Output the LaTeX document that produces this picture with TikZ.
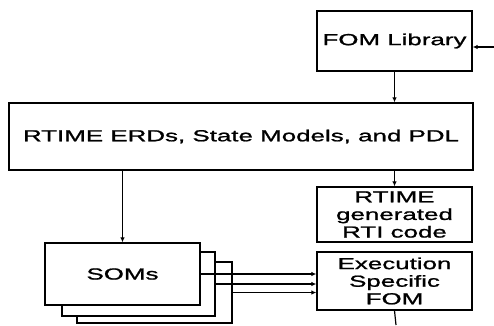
\documentclass[tikz,border=0pt]{standalone}
\usepackage{fontspec}
\setmainfont{Liberation Sans}[FakeStretch=1.62,FakeBold=1.2]
\usetikzlibrary{arrows.meta}
\begin{document}
\begin{tikzpicture}[x=1pt,y=-1pt,
  box/.style={draw,line width=1.3pt,fill=white,inner sep=0pt,align=center,
    font=\fontsize{16}{17.6}\selectfont},
  conn/.style={line width=1.2pt,-{Latex[length=5pt,width=4.5pt]}},
  plain/.style={line width=1.2pt}]
\useasboundingbox (0,0) rectangle (494,325);
% boxes
\node[box,minimum width=155pt,minimum height=60pt] (fom) at (394.5,41) {FOM Library};
\node[box,minimum width=464pt,minimum height=67pt] (rtime) at (241,136.5) {RTIME ERDs, State Models, and PDL};
\node[box,minimum width=155pt,minimum height=55pt] (rti) at (394.5,214.5) {RTIME\\generated\\RTI code};
\node[box,minimum width=155pt,minimum height=58pt] (exec) at (394.5,281) {Execution\\Specific\\FOM};
\node[box,minimum width=155pt,minimum height=61pt] (som3) at (154.5,292.5) {};
\node[box,minimum width=153pt,minimum height=64pt] (som2) at (138.5,284) {};
\node[box,minimum width=155pt,minimum height=62pt] (som1) at (122.5,274) {SOMs};
\coordinate (in) at (494,47);
\coordinate (out) at (396,325);
% connectors
\draw[conn] (in) -- (in -| fom.east);
\draw[conn] (fom.south) -- (fom.south |- rtime.north);
\draw[conn] (rti.north |- rtime.south) -- (rti.north);
\draw[conn] (som1.north |- rtime.south) -- (som1.north);
\draw[conn] (som1.east) -- (som1.east -| exec.west);
\draw[conn] (som2.east) -- (som2.east -| exec.west);
\draw[conn] (som3.east) -- (som3.east -| exec.west);
\draw[plain] (exec.south) -- (out);
\end{tikzpicture}
\end{document}
